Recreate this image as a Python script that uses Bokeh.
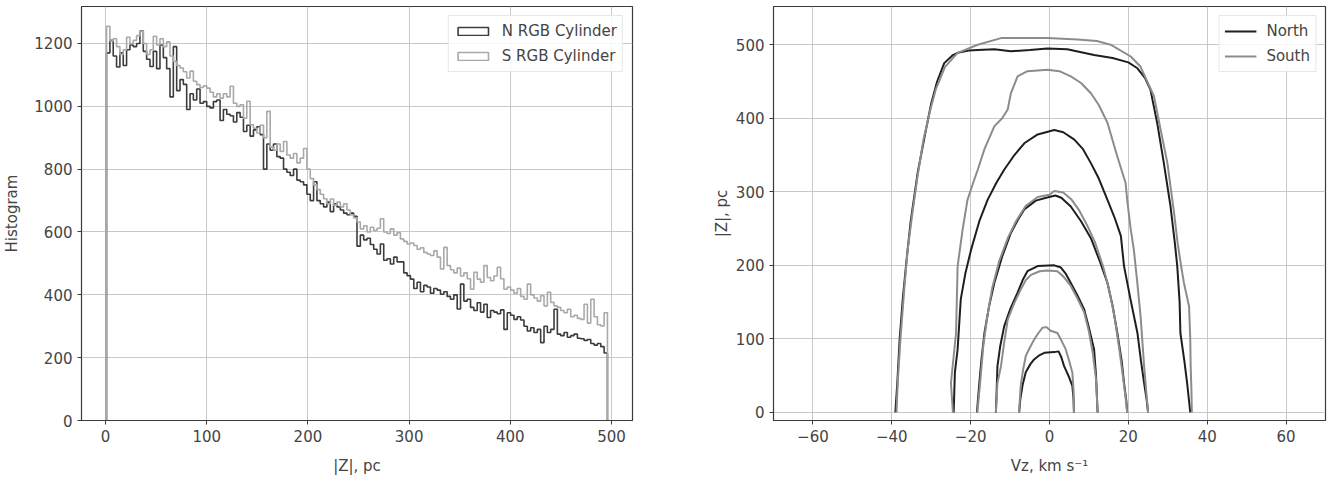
import numpy as np
from bokeh.plotting import figure
from bokeh.models import Range1d, FixedTicker, Legend, LegendItem
from bokeh.layouts import row
from bokeh.embed import file_html
from bokeh.resources import INLINE

# ---------------- data: left panel (histogram of |Z|) ----------------
hist_edge_lo = 1.0
hist_edge_hi = 496.0
n_counts = [
    1170, 1210, 1160, 1125, 1170, 1130, 1180, 1195, 1190, 1200,
    1240, 1175, 1150, 1127, 1175, 1120, 1195, 1155, 1120, 1030,
    1190, 1050, 1085, 1070, 990, 1040, 1020, 1055, 1010, 1015,
    1000, 995, 1015, 1020, 955, 990, 975, 970, 950, 980,
    965, 920, 940, 905, 925, 935, 910, 800, 880, 860,
    880, 840, 835, 800, 790, 780, 800, 765, 760, 750,
    720, 700, 760, 700, 690, 680, 695, 665, 690, 680,
    670, 660, 655, 660, 650, 555, 590, 575, 580, 560,
    545, 530, 562, 510, 515, 498, 520, 505, 505, 470,
    461, 450, 420, 440, 410, 430, 425, 405, 420, 415,
    402, 410, 395, 386, 400, 355, 434, 380, 386, 360,
    350, 375, 345, 370, 328, 350, 345, 340, 352, 290,
    343, 335, 322, 330, 320, 300, 285, 295, 280, 290,
    248, 300, 280, 290, 354, 275, 270, 280, 265, 270,
    275, 262, 260, 255, 258, 245, 240, 245, 235, 215,
]
s_counts = [
    1255, 1208, 1215, 1190, 1165, 1180, 1220, 1200, 1210, 1225,
    1239, 1200, 1165, 1180, 1223, 1195, 1215, 1190, 1205, 1160,
    1143, 1130, 1122, 1110, 1090, 1112, 1080, 1069, 1060, 1065,
    1058, 1045, 1030, 1040, 1026, 1040, 1030, 1064, 1010, 1000,
    1005, 962, 1016, 941, 930, 915, 940, 900, 984, 870,
    860, 880, 856, 888, 845, 835, 850, 820, 835, 866,
    800, 770, 750, 735, 720, 706, 690, 705, 685, 695,
    680, 690, 670, 655, 645, 632, 610, 620, 600, 615,
    605, 612, 642, 600, 595, 610, 590, 598, 578, 570,
    562, 565, 557, 545, 550, 535, 530, 525, 540, 520,
    482, 551, 493, 480, 470, 485, 460, 470, 451, 418,
    472, 450, 440, 493, 455, 445, 460, 488, 451, 418,
    425, 415, 405, 420, 395, 386, 434, 400, 390, 380,
    397, 365, 408, 376, 365, 360, 350, 343, 354, 330,
    335, 325, 322, 370, 310, 386, 330, 305, 301, 343,
]
left_xticks = [0, 100, 200, 300, 400, 500]
left_yticks = [0, 200, 400, 600, 800, 1000, 1200]

# ---------------- data: right panel (contours in Vz - |Z|) ----------------
north_v = [
    [-39.1, -38.6, -38.0, -37.2, -36.2, -35.2, -33.4, -31.5, -30.0, -28.5, -26.7, -24.5, -23.3, -20.5, -18.2,
     -14.0, -9.8, -5.0, -0.5, 4.5, 11.3, 16.0, 20.0, 22.3, 24.2, 25.6, 27.3, 29.0, 30.7, 31.8, 32.4, 33.0,
     33.2, 34.2, 34.9, 35.7],
    [-24.3, -24.0, -23.3, -22.5, -21.3, -19.9, -17.8, -15.7, -13.5, -11.5, -8.9, -6.4, -3.0, 1.2, 3.5, 6.3,
     8.5, 10.5, 12.5, 14.7, 16.5, 18.1, 18.9, 20.5, 22.3, 23.2, 24.0, 24.7, 25.0],
    [-18.4, -17.8, -17.2, -16.5, -15.3, -14.0, -12.0, -9.8, -8.0, -6.4, -3.5, -0.1, 1.5, 3.0, 5.4, 8.0, 10.5,
     12.8, 14.7, 16.0, 17.2, 18.3, 18.9, 19.5, 19.7],
    [-13.6, -13.4, -13.2, -12.5, -11.5, -10.0, -8.1, -6.8, -5.6, -3.0, 1.2, 2.9, 4.2, 5.4, 7.0, 8.8, 10.0,
     11.3, 11.8, 12.2],
    [-7.7, -7.4, -6.8, -6.0, -4.8, -3.9, -2.5, -1.3, 1.2, 2.3, 3.0, 3.7, 4.8, 5.8, 6.1, 6.2],
]
north_z = [
    [0, 40, 100, 155, 210, 260, 327, 380, 420, 450, 475, 486, 489, 492, 493, 494, 491, 493, 495, 494, 486, 482,
     476, 468, 455, 439, 394, 339, 280, 230, 199, 150, 108, 70, 40, 0],
    [0, 54, 86, 154, 190, 221, 260, 289, 312, 330, 350, 366, 378, 384, 381, 371, 358, 339, 318, 289, 265, 240,
     199, 155, 108, 70, 40, 15, 0],
    [0, 40, 75, 108, 145, 176, 212, 244, 262, 276, 288, 293, 295, 292, 280, 260, 237, 205, 176, 145, 108, 70,
     40, 15, 0],
    [0, 30, 63, 90, 117, 140, 163, 180, 192, 199, 200, 197, 188, 176, 160, 140, 115, 86, 50, 0],
    [0, 18, 38, 55, 66, 72, 78, 81, 82, 83, 75, 63, 50, 36, 18, 0],
]
south_v = [
    [-38.8, -38.5, -37.8, -36.8, -36.0, -34.8, -33.5, -32.0, -30.3, -28.8, -26.5, -23.3, -18.2, -12.3, -5.6,
     -0.5, 7.1, 12.0, 15.5, 20.6, 23.1, 26.5, 28.2, 29.9, 31.6, 32.5, 33.5, 34.1, 35.4, 35.7, 35.8, 36.0, 36.1],
    [-24.5, -25.0, -23.7, -23.3, -22.0, -20.8, -19.5, -18.2, -16.5, -14.0, -12.0, -10.6, -9.8, -8.1, -5.6,
     -0.5, 2.5, 5.4, 8.0, 10.5, 12.5, 14.7, 17.2, 19.3, 19.7, 20.6, 21.4, 22.2, 23.1, 24.0, 24.6, 25.0],
    [-18.3, -17.6, -16.8, -15.8, -14.5, -12.8, -10.5, -8.5, -6.0, -3.0, 0.0, 1.2, 3.5, 5.5, 7.5, 9.5, 11.5,
     13.5, 15.0, 16.5, 17.6, 18.6, 19.3, 19.7],
    [-13.6, -13.2, -12.3, -11.5, -10.6, -9.0, -7.3, -6.0, -4.7, -2.5, -0.5, 2.0, 3.5, 5.4, 7.0, 8.8, 10.0,
     11.0, 11.8, 12.2],
    [-7.7, -7.5, -7.3, -6.7, -6.0, -5.0, -3.9, -2.8, -1.8, -0.8, 0.3, 2.0, 3.0, 4.1, 5.0, 5.8, 6.1, 6.2],
]
south_z = [
    [0, 40, 100, 170, 220, 270, 320, 370, 410, 440, 470, 489, 500, 509, 509, 509, 507, 505, 500, 484, 470,
     430, 384, 339, 271, 230, 195, 176, 144, 100, 63, 30, 0],
    [0, 40, 108, 199, 250, 289, 310, 330, 358, 389, 400, 412, 434, 457, 464, 466, 464, 457, 448, 434, 418,
     394, 348, 312, 289, 249, 221, 180, 131, 63, 25, 0],
    [0, 40, 90, 130, 170, 205, 238, 260, 281, 293, 296, 301, 299, 290, 275, 255, 232, 200, 170, 130, 90, 50,
     20, 0],
    [0, 40, 63, 95, 126, 148, 167, 180, 187, 192, 193, 192, 185, 172, 156, 136, 110, 80, 45, 0],
    [0, 20, 36, 58, 77, 88, 99, 108, 115, 116, 111, 108, 98, 86, 70, 54, 30, 0],
]
right_xticks = [-60, -40, -20, 0, 20, 40, 60]
right_yticks = [0, 100, 200, 300, 400, 500]

# ---------------- styling helpers ----------------
FONT = "DejaVu Sans"
TXT = "#444444"
FS = "15px"


def minus(v):
    return ("\u2212" + str(abs(v))) if v < 0 else str(v)


def style(p, xt, yt, xlabel, ylabel, ystand):
    p.background_fill_color = "white"
    p.border_fill_color = "white"
    p.outline_line_color = "#3a3a3a"
    p.outline_line_width = 1.2
    for ax, ticks, lab in ((p.xaxis, xt, xlabel), (p.yaxis, yt, ylabel)):
        ax.ticker = FixedTicker(ticks=ticks)
        ax.major_label_overrides = {t: minus(t) for t in ticks}
        ax.axis_label = lab
        ax.axis_label_text_font = FONT
        ax.axis_label_text_font_style = "normal"
        ax.axis_label_text_font_size = FS
        ax.axis_label_text_color = TXT
        ax.major_label_text_font = FONT
        ax.major_label_text_font_size = FS
        ax.major_label_text_color = TXT
        ax.axis_line_color = "#3a3a3a"
        ax.major_tick_line_color = "#3a3a3a"
        ax.major_tick_out = 4
        ax.major_tick_in = 0
        ax.minor_tick_line_color = None
        ax.major_label_standoff = 5
    p.xaxis.axis_label_standoff = 12
    p.yaxis.axis_label_standoff = ystand
    p.grid.grid_line_color = "#c8c8c8"
    p.grid.grid_line_width = 1
    p.grid.grid_line_alpha = 1.0
    p.xgrid.ticker = FixedTicker(ticks=xt)
    p.ygrid.ticker = FixedTicker(ticks=yt)


# ---------------- left panel ----------------
nb = len(n_counts)
edges = np.linspace(hist_edge_lo, hist_edge_hi, nb + 1)
pad = 0.05 * (hist_edge_hi - hist_edge_lo)
ymax = 1.05 * max(max(n_counts), max(s_counts))

p1 = figure(width=692, height=475, frame_width=551, frame_height=414,
            min_border_left=76, min_border_right=65, min_border_top=6, min_border_bottom=55,
            x_range=Range1d(hist_edge_lo - pad, hist_edge_hi + pad), y_range=Range1d(0, ymax),
            output_backend="svg", toolbar_location=None)
style(p1, left_xticks, left_yticks, "|Z|, pc", "Histogram", 10)

N_COL_H = "#3c3c3c"
S_COL_H = "#a9a9a9"
xs_step = np.repeat(edges, 2)
for counts, col in ((n_counts, N_COL_H), (s_counts, S_COL_H)):
    ys_step = np.concatenate([[0.0], np.repeat(np.array(counts, dtype=float), 2), [0.0]])
    p1.line(xs_step, ys_step, line_color=col, line_width=1.6)

# legend proxies (outlined boxes, like matplotlib step histograms); no visible mark
nan1 = np.array([np.nan])
q_n = p1.quad(left=nan1, right=nan1, top=nan1, bottom=nan1, fill_color=None,
              line_color=N_COL_H, line_width=1.6)
q_s = p1.quad(left=nan1, right=nan1, top=nan1, bottom=nan1, fill_color=None,
              line_color=S_COL_H, line_width=1.6)
leg1 = Legend(items=[LegendItem(label="N RGB Cylinder", renderers=[q_n]),
                     LegendItem(label="S RGB Cylinder", renderers=[q_s])],
              location="top_right")
p1.add_layout(leg1)

# ---------------- right panel ----------------
p2 = figure(width=634, height=475, frame_width=552, frame_height=414,
            min_border_left=76, min_border_right=6, min_border_top=6, min_border_bottom=55,
            x_range=Range1d(-70, 70), y_range=Range1d(-11, 552),
            output_backend="svg", toolbar_location=None)
style(p2, right_xticks, right_yticks, "Vz, km s\u207b\u00b9", "|Z|, pc", 2)

N_COL = "#1e1e1e"
S_COL = "#8c8c8c"
r_n = p2.multi_line(xs=north_v, ys=north_z, line_color=N_COL, line_width=2)
r_s = p2.multi_line(xs=south_v, ys=south_z, line_color=S_COL, line_width=2)
leg2 = Legend(items=[LegendItem(label="North", renderers=[r_n]),
                     LegendItem(label="South", renderers=[r_s])],
              location="top_right")
p2.add_layout(leg2)

for lg, gw, gh in ((leg1, 38, 10), (leg2, 32, 20)):
    lg.label_text_font = FONT
    lg.label_text_font_size = FS
    lg.label_text_color = TXT
    lg.border_line_color = "#d0d0d0"
    lg.border_line_width = 1
    lg.background_fill_alpha = 0.85
    lg.margin = 9
    lg.padding = 5
    lg.spacing = 5
    lg.glyph_width = gw
    lg.glyph_height = gh
    lg.label_height = 20
    lg.label_standoff = 10

layout = row(p1, p2)
open("out.html", "w").write(file_html(layout, INLINE))
